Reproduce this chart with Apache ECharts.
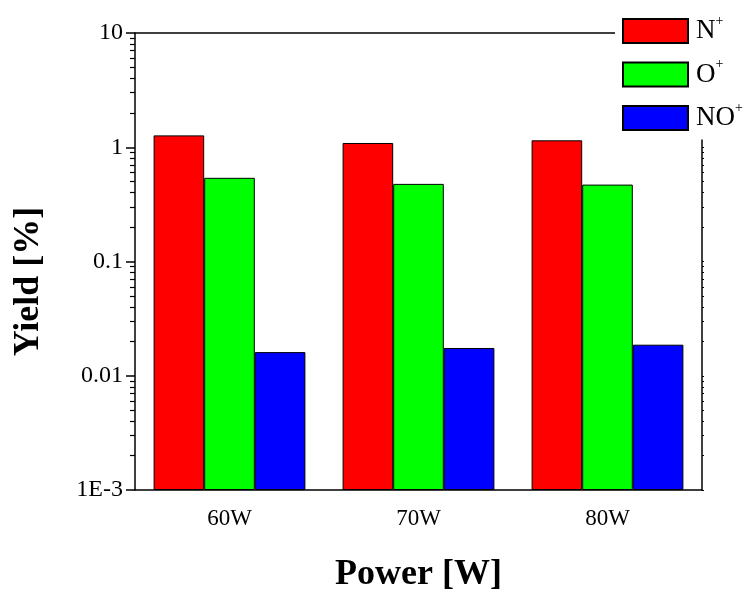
<!DOCTYPE html>
<html>
<head>
<meta charset="utf-8">
<script src="https://cdn.jsdelivr.net/npm/echarts@6/dist/echarts.min.js"></script>
<style>
  html, body { margin: 0; padding: 0; background: #fff; }
  #chart { width: 749px; height: 592px; }
</style>
</head>
<body>
<div id="chart"></div>
<script>
const categories = ["60W", "70W", "80W"];
const seriesNames = ["N+", "O+", "NO+"];
const nPlus = [1.27, 1.09, 1.15];
const oPlus = [0.54, 0.478, 0.471];
const noPlus = [0.0161, 0.0175, 0.0187];
const yTickValues = [0.001, 0.01, 0.1, 1, 10];
const yTickLabels = ["1E-3", "0.01", "0.1", "1", "10"];
const yMinorTicks = [];
for (let d = 0; d < yTickValues.length - 1; d++) {
  for (let k = 2; k <= 9; k++) yMinorTicks.push(+(yTickValues[d] * k).toPrecision(3));
}

const font = "Liberation Serif";
const colors = ["#ff0000", "#00ff00", "#0000ff"];
const legendText = {
  "N+": "{b|N}{s|+}",
  "O+": "{b|O}{s|+}",
  "NO+": "{b|NO}{s|+}"
};

const chart = echarts.init(document.getElementById("chart"));

const barSeries = [nPlus, oPlus, noPlus].map((vals, i) => ({
  name: seriesNames[i],
  type: "bar",
  data: vals,
  barWidth: 50.6,
  barGap: "0%",
  itemStyle: { color: colors[i], borderColor: "#000", borderWidth: 1 }
}));

const logBase = {
  type: "log",
  logBase: 10,
  min: 0.001,
  max: 10,
  startValue: 0.001,
  splitLine: { show: false },
  minorTick: { show: false }
};

chart.setOption({
  animation: false,
  grid: { left: 135, right: 47, top: 33, bottom: 102, outerBoundsMode: "none", containLabel: false },
  legend: {
    orient: "vertical",
    left: 615,
    top: 0,
    padding: [14, 10, 8, 7],
    backgroundColor: "#fff",
    itemWidth: 65,
    itemHeight: 24,
    itemGap: 13,
    icon: "rect",
    data: seriesNames,
    formatter: name => legendText[name],
    textStyle: {
      padding: [0, 0, 0, 3],
      rich: {
        b: { fontFamily: font, fontSize: 27, color: "#000", lineHeight: 34 },
        s: { fontFamily: font, fontSize: 14, color: "#000", verticalAlign: "top", lineHeight: 6 }
      }
    }
  },
  xAxis: [
    {
      type: "category",
      data: categories,
      position: "bottom",
      name: "Power [W]",
      nameLocation: "middle",
      nameGap: 67,
      nameTextStyle: { fontFamily: font, fontSize: 36, fontWeight: "bold", color: "#000" },
      axisLine: { lineStyle: { color: "#000", width: 1.5 } },
      axisTick: { alignWithLabel: true, length: 9, lineStyle: { color: "#000", width: 1.5 } },
      axisLabel: { fontFamily: font, fontSize: 23, color: "#000", margin: 17 }
    },
    {
      type: "category",
      data: categories,
      position: "bottom",
      axisLine: { show: false },
      axisTick: { length: 3, lineStyle: { color: "#000", width: 1.5 } },
      axisLabel: { show: false }
    },
    {
      type: "category",
      data: categories,
      position: "top",
      axisLine: { lineStyle: { color: "#000", width: 1.5 } },
      axisTick: { alignWithLabel: true, inside: true, length: 2, lineStyle: { color: "#000" } },
      axisLabel: { show: false }
    }
  ],
  yAxis: [
    Object.assign({}, logBase, {
      position: "left",
      name: "Yield [%]",
      nameLocation: "middle",
      nameGap: 88,
      nameTextStyle: { fontFamily: font, fontSize: 36, fontWeight: "bold", color: "#000", padding: [0, 40, 0, 0] },
      axisLine: { show: true, lineStyle: { color: "#000", width: 1.5 } },
      axisTick: { show: true, length: 9, customValues: yTickValues, lineStyle: { color: "#000", width: 1.5 } },
      axisLabel: {
        fontFamily: font, fontSize: 24, color: "#000", margin: 12,
        customValues: yTickValues,
        formatter: v => {
          const i = yTickValues.findIndex(t => Math.abs(Math.log10(t) - Math.log10(v)) < 1e-6);
          return i >= 0 ? yTickLabels[i] : "";
        }
      }
    }),
    Object.assign({}, logBase, {
      position: "left",
      axisLine: { show: false },
      axisTick: { show: true, length: 5, customValues: yMinorTicks, lineStyle: { color: "#000", width: 1.2 } },
      axisLabel: { show: false }
    }),
    Object.assign({}, logBase, {
      position: "right",
      axisLine: { show: true, lineStyle: { color: "#000", width: 1.5 } },
      axisTick: { show: true, length: 2, customValues: yTickValues.concat(yMinorTicks), lineStyle: { color: "#000" } },
      axisLabel: { show: false }
    })
  ],
  series: barSeries
});
</script>
</body>
</html>
